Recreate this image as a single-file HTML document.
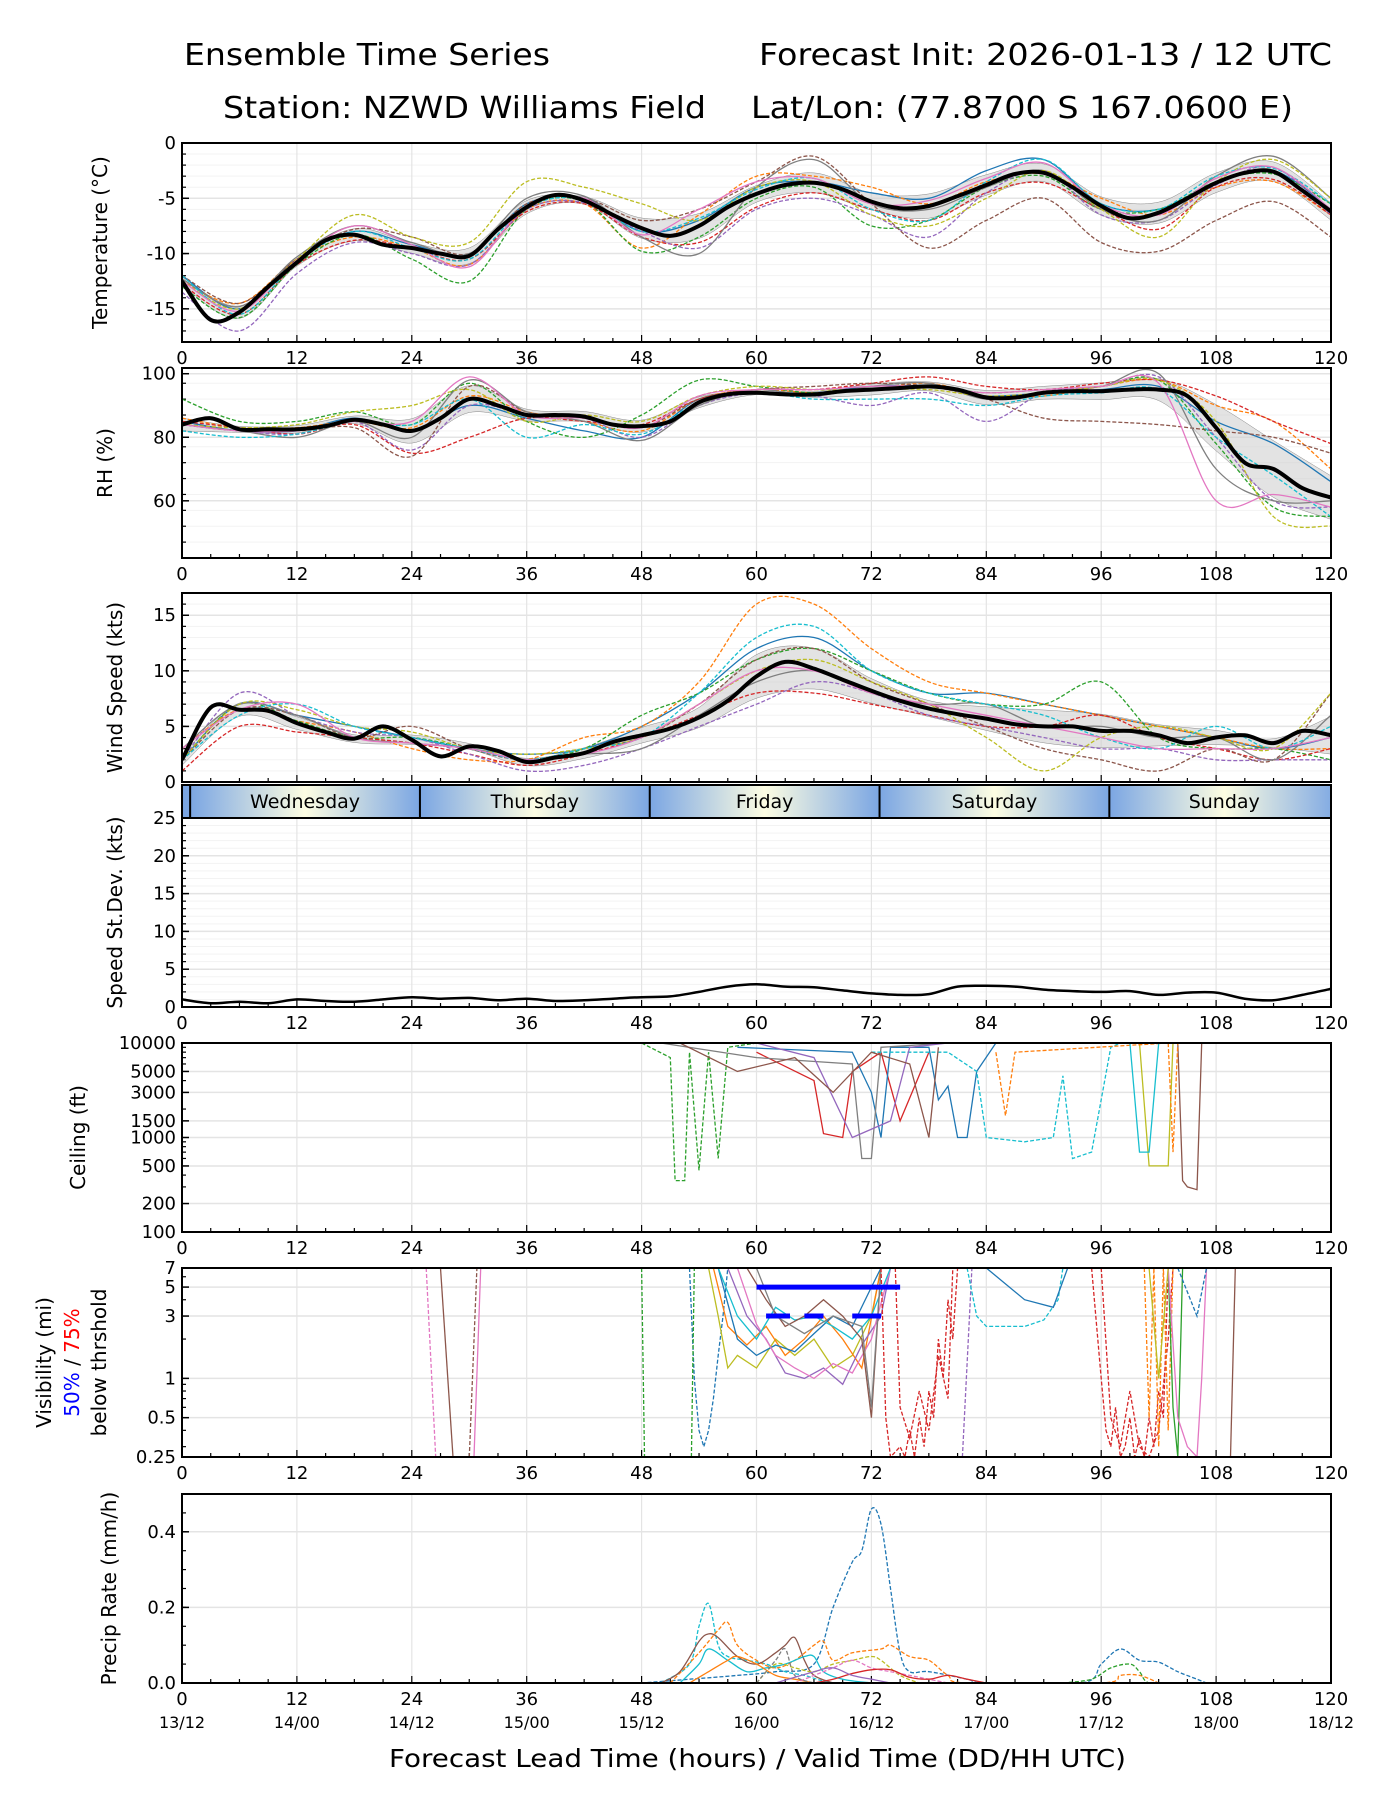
<!DOCTYPE html>
<html><head><meta charset="utf-8"><title>Ensemble Time Series</title>
<style>
html,body{margin:0;padding:0;background:#fff;}
svg{display:block;font-family:"DejaVu Sans","Liberation Sans",sans-serif;}
</style></head>
<body>
<svg id="chart" xmlns="http://www.w3.org/2000/svg" width="1400" height="1800" viewBox="0 0 1400 1800">
<defs>
<linearGradient id="dayGrad" x1="0" x2="1" y1="0" y2="0">
<stop offset="0" stop-color="#7ba6e3"/><stop offset="0.5" stop-color="#fdfde2"/><stop offset="1" stop-color="#7ba6e3"/>
</linearGradient>
</defs>
<text x="184" y="65" font-size="30" textLength="366" lengthAdjust="spacingAndGlyphs">Ensemble Time Series</text>
<text x="759" y="65" font-size="30" textLength="573" lengthAdjust="spacingAndGlyphs">Forecast Init: 2026-01-13 / 12 UTC</text>
<text x="223" y="118" font-size="30" textLength="483" lengthAdjust="spacingAndGlyphs">Station: NZWD Williams Field</text>
<text x="751" y="118" font-size="30" textLength="542" lengthAdjust="spacingAndGlyphs">Lat/Lon: (77.8700 S 167.0600 E)</text>
<text x="389" y="1767" font-size="25" textLength="737" lengthAdjust="spacingAndGlyphs">Forecast Lead Time (hours) / Valid Time (DD/HH UTC)</text>
</svg>
<script>
// ---------- DATA ----------
const tempMean=[-12.5,-16,-15.3,-13,-10.8,-8.8,-8.3,-9.2,-9.5,-10,-10.2,-7.8,-5.8,-4.7,-5.2,-6.5,-7.7,-8.4,-7.5,-5.8,-4.6,-3.8,-3.6,-4.2,-5.3,-5.9,-5.7,-4.8,-3.8,-2.8,-2.7,-4.0,-5.7,-6.8,-6.3,-5,-3.6,-2.7,-2.6,-4.3,-6.2];
const tempMembers=[
[-12,-15,-10.5,-8,-9.2,-10,-5.5,-5,-8,-7,-4,-3.5,-4.5,-5,-2.5,-1.5,-5.5,-6,-3.5,-2.5,-6],
[-12.5,-14.5,-10.5,-8.5,-9.5,-11,-6,-5.5,-9.5,-6.5,-3,-3,-4,-5.5,-3.5,-2.8,-5,-6.5,-4,-3.5,-6.5],
[-13,-15.8,-11,-8.3,-10.5,-12.5,-6,-5.3,-9.8,-8.5,-5,-4,-7.5,-7,-4,-3,-6,-6,-3.5,-2.8,-5.5],
[-12.8,-15.5,-11,-8.8,-9.5,-10.5,-6.2,-5.5,-8.5,-9,-5.8,-4.5,-6,-7,-4.5,-3.6,-6,-7.8,-4,-3.3,-6.5],
[-13.5,-17,-11.8,-9,-10,-11,-6,-5.4,-8,-9.5,-6,-5,-6.5,-8.5,-4.5,-2.5,-6.5,-7,-3.8,-2.2,-6.5],
[-12,-14.5,-10.5,-7.8,-8.5,-10,-5.5,-5,-7,-6,-3.5,-1.2,-5.5,-9.5,-7,-5,-9,-9.8,-7,-5.3,-8.5],
[-12.3,-14.8,-10.3,-7.5,-9,-10,-5,-4.8,-8.5,-10,-4,-1.5,-5.5,-6,-4,-2.5,-6,-7,-3,-1.2,-5],
[-12.5,-15,-10.5,-6.5,-8.5,-9,-3.5,-4,-5.5,-7,-4,-3.5,-6.5,-7.5,-5,-2.5,-6,-8.5,-3.5,-1.5,-5],
[-12,-15.5,-10.8,-8,-9.5,-10.5,-5.8,-5.1,-8,-6.8,-4.2,-3.2,-6,-7,-3.5,-1.5,-5.5,-6,-3,-2.3,-5.5],
[-12.5,-15.2,-10.6,-7.5,-9.2,-11.2,-5.7,-5,-8.3,-6,-3.5,-3.2,-5.5,-5.2,-3.2,-1.8,-5.6,-6.5,-3.2,-2.2,-6]];
const rhMean=[84,86,82.5,82.5,82.5,83.5,85.5,84,82,86,92,90,87,87,86.5,84,83.5,85,91,93.5,94,93.5,93.5,94.5,95,95.5,96,95,92.5,92.5,94,94.5,94.5,95,95,93,83,72,70,64,61];
const rhMembers=[
[85,82,82,86,82,90,86,82,80,92,94,94,96,96,93,94,95,96,85,78,66],
[86,83,83,85,83,93,88,85,82,92,95,94,95,97,93,93,96,98,90,85,70],
[92,85,85,88,84,97,85,80,87,98,96,94,95,96,94,95,96,98,78,58,55],
[85,83,81,84,75,80,86,85,84,92,95,95,97,99,96,95,97,98,93,85,78],
[84,82,81,85,76,90,87,86,80,90,94,93,90,94,85,94,96,99,80,60,58],
[84,82,82,83,74,96,88,86,83,92,95,96,97,96,92,86,85,84,82,80,75],
[84,82,80,85,80,98,88,85,79,90,95,93,96,97,92,94,96,100,70,60,60],
[84,83,84,88,90,95,85,87,85,93,96,95,95,95,93,94,96,98,85,55,52],
[82,80,81,85,84,92,80,84,81,91,94,92,92,92,90,93,94,95,80,68,55],
[84,82,82,85,85,99,87,86,83,93,95,95,96,96,94,95,96,97,60,62,58]];
const windMean=[2,6.7,6.5,6.4,5.3,4.5,3.9,5,3.8,2.3,3.2,2.8,1.8,2.2,2.6,3.6,4.2,4.8,5.8,7.3,9.5,10.8,10.2,9.2,8.2,7.3,6.6,6.1,5.7,5.2,5.0,5.0,4.6,4.6,4.2,3.5,4.0,4.2,3.5,4.6,4.2];
const windMembers=[
[2,7,6,5,4,3,2.5,3,5,8,12,13,10,8,8,7,6,5,4,3,4],
[3,6.5,5.5,4.5,3,2,2,4,5,9,16,16,12,9,8,7,6,5,4,3,3],
[2,7,5.5,4,4,3,2,3,6,8,11,12,10,8,7,7,9,4,3,3,2],
[1,5,4.5,4,3.5,2.5,1.5,2.5,4,6,8,8,7,6,5,5,6,4,3,2,3],
[2,8,6,4.5,4,2.5,1,1.5,3,5,7,9,8,6,5,4,3,3,2,2,2],
[2,6.5,6,4,5,3,2,3,4,7,11,12,9,7,5,3,2,1,3,2,8],
[3,7,6,4,3.5,3,2,2.5,3,6,9,10,8,7,7,5,5,4,4,2,6],
[2,7,6.5,5,4.5,3,2.5,3,4,7,10,11,9,7,4,1,4,5,4,3,8],
[2,6,7,5,4,3,2,3,4,8,13,14,10,8,7,6,4,3,5,3,5],
[3,6.5,7,4,3.5,3,2,2.5,4,7,10,10,8,7,6,5,4,3,3,3,4]];
const sdValues=[1,0.5,0.7,0.5,1.0,0.8,0.7,1,1.3,1.1,1.2,0.9,1.1,0.8,0.9,1.1,1.3,1.4,2,2.7,3,2.7,2.6,2.2,1.8,1.6,1.7,2.7,2.8,2.7,2.3,2.1,2.0,2.1,1.6,1.9,1.9,1.1,0.9,1.6,2.4];
const ceilMembers=[
[[48,10000],[51,7000],[51.5,350],[52.5,350],[53,8000],[54,450],[55,8000],[56,600],[57,9000],[60,10000]],
[[60,8000],[66,4000],[67,1100],[69,1000],[70,5000],[73,8000],[75,1500],[78,8000]],
[[58,9000],[70,8000],[72,3000],[73,1000],[74,9000],[78,9000],[79,2500],[80,3500],[81,1000],[82,1000],[83,5000],[85,10000]],
[[50,10000],[60,7000],[70,6000],[71,600],[72,600],[73,9000],[80,10000]],
[[72,8000],[80,8000],[83,5000],[84,1000],[88,900],[91,1000],[92,4500],[93,600],[95,700],[97,9000],[98,10000]],
[[100,10000],[101,500],[103,500],[103.5,10000]],
[[104,10000],[104.5,350],[105,300],[106,280],[106.5,10000]],
[[85,8000],[86,1700],[87,8000],[103,10000],[103.5,700],[104,10000]],
[[60,10000],[66,7000],[70,1000],[74,1500],[76,9000],[80,10000]],
[[99,10000],[100,700],[101,700],[102,10000]],
[[52,10000],[58,5000],[64,7000],[68,3000],[72,8000],[76,6000],[78,1000],[79,9000]]];
const ceilColors=['#2ca02c','#d62728','#1f77b4','#7f7f7f','#17becf','#bcbd22','#8c564b','#ff7f0e','#9467bd','#17becf','#8c564b'];
const visMembers=[
[[25.5,7],[26.5,0.25]],[[27,7],[28.3,0.25]],[[30.5,0.25],[31.2,7]],[[30,0.25],[30.8,7]],[[48,7],[48.3,0.25]],
[[53,7],[53.5,1],[54,0.4],[54.5,0.3],[55,0.4],[55.5,0.7],[56,1.5],[56.5,3],[57,7]],
[[53.2,0.25],[53.5,7]],
[[55,7],[56,3],[57,1.2],[58,1.5],[60,1.2],[62,2],[64,1.5],[66,2],[68,1.2],[70,1.5],[72,3],[73,7]],
[[55.5,7],[57,2.5],[59,1.8],[61,2.5],[63,1.5],[65,2],[67,3],[69,2],[71,1.2],[73,7]],
[[56,7],[58,2],[60,1.5],[62,1.8],[64,1.6],[66,2.2],[68,3],[70,2.5],[72,5],[73,7]],
[[57,7],[59,3],[61,2],[63,1.1],[65,1],[67,1.2],[69,0.9],[71,1.8],[73,3],[74,7]],
[[58,7],[60,2.6],[62,1.5],[64,1.2],[66,1],[68,1.3],[70,1.1],[72,2],[74,7]],
[[56,7],[58,3],[60,2],[62,3.5],[64,2.8],[66,3],[68,2.5],[70,2],[72,3],[74,7]],
[[59,7],[61,4],[63,2.5],[65,3],[67,4],[69,3],[71,2],[72,0.5],[73,7]],
[[60,7],[62,3],[65,2.2],[68,3],[71,2.5],[72,0.6],[73,7]],
[[73,7],[73.5,0.5],[74,0.25],[75,0.3],[75.5,0.25],[76,0.4],[76.5,0.25],[77,0.5],[77.5,0.3],[78,0.8],[78.5,0.5],[79,2],[79.5,1],[80,4],[80.5,2],[81,7]],
[[74.5,7],[75,0.6],[76,0.35],[77,0.8],[78,0.4],[79,1.5],[80,0.7],[80.5,7]],
[[81.5,0.25],[82.5,7]],
[[82,7],[83,3],[84,2.5],[88,2.5],[90,2.8],[91.5,4],[92,7]],
[[84,7],[88,4],[91,3.5],[92.5,7]],
[[95,7],[96,1],[96.5,0.4],[97,0.3],[97.5,0.6],[98,0.25],[98.5,0.3],[99,0.5],[99.5,0.25],[100,0.35],[100.5,0.25],[101,0.5],[101.5,0.3],[102,0.8],[102.5,0.5],[103,7]],
[[96,7],[97,0.5],[98,0.3],[99,0.8],[100,0.3],[101,0.25],[102,0.4],[103,2],[103.5,7]],
[[100.5,7],[101,0.5],[101.5,7],[102,0.3],[102.5,7],[103,0.4],[103.5,7]],
[[103,7],[103.5,0.6],[104,0.25],[104.5,7]],
[[103,7],[104,0.5],[105,0.3],[106,0.25],[106.5,1],[107,7]],
[[109.5,0.25],[110,7]],
[[101,7],[102,1],[103,7]],
[[104,7],[106,3],[107,7]]];
const visColors=['#e377c2','#8c564b','#e377c2','#8c564b','#2ca02c','#1f77b4','#2ca02c','#bcbd22','#ff7f0e','#1f77b4','#9467bd','#e377c2','#17becf','#8c564b','#7f7f7f','#d62728','#d62728','#9467bd','#17becf','#1f77b4','#d62728','#d62728','#ff7f0e','#2ca02c','#e377c2','#8c564b','#bcbd22','#1f77b4'];
const visDashed=[1,0,0,1,1,1,1,0,0,0,0,0,0,0,0,1,1,1,1,0,1,1,1,0,0,0,0,1];
const vis50Bars=[[60,75]];
const vis75Bars=[[61,63.5],[65,67],[70,73]];
const precipMembers=[
[[48,0],[53,0.01],[58,0.02],[62,0.03],[66,0.05],[68,0.2],[70,0.32],[71,0.35],[72,0.46],[73,0.42],[74,0.25],[75,0.08],[76,0.03],[78,0.03],[82,0.01],[84,0],[94,0],[96,0.05],[98,0.09],[100,0.06],[102,0.055],[104,0.03],[106,0.01],[107,0]],
[[50,0],[53,0.05],[54,0.15],[55,0.21],[56,0.1],[57,0.07],[59,0.06],[61,0.05],[63,0.03],[65,0.02],[68,0],[72,0]],
[[51,0],[54,0.08],[56,0.14],[57,0.16],[58,0.1],[60,0.06],[62,0.04],[64,0.06],[66,0.1],[67,0.11],[68,0.06],[70,0.08],[73,0.09],[74,0.1],[76,0.07],[78,0.06],[80,0.02],[82,0],[96,0],[98,0.02],[100,0.02],[102,0]],
[[50,0],[52,0.03],[54,0.11],[55,0.13],[56,0.12],[58,0.07],[60,0.05],[62,0.08],[63,0.1],[64,0.12],[65,0.06],[66,0.02],[68,0]],
[[52,0],[54,0.05],[55,0.09],[57,0.06],[59,0.03],[61,0.04],[63,0.05],[65,0.07],[66,0.07],[67,0.03],[69,0.01],[72,0]],
[[53,0],[55,0.03],[57,0.06],[58,0.07],[60,0.05],[62,0.02],[64,0.01],[66,0]],
[[60,0],[62,0.05],[64,0.04],[66,0.03],[68,0.05],[70,0.06],[72,0.07],[73,0.06],[75,0.02],[77,0]],
[[64,0],[66,0.02],[68,0.04],[70,0.06],[72,0.04],[74,0.03],[76,0.02],[78,0.01],[80,0]],
[[66,0],[68,0.01],[70,0.025],[72,0.035],[74,0.035],[76,0.015],[78,0.01],[80,0.02],[82,0.01],[84,0]],
[[92,0],[95,0.01],[97,0.04],[99,0.05],[100,0.03],[101,0],[104,0]],
[[60,0],[62,0.06],[63,0.09],[64,0.02],[66,0]],
[[62,0],[66,0.03],[68,0.04],[70,0.02],[72,0.01],[74,0]]];
const precipColors=['#1f77b4','#17becf','#ff7f0e','#8c564b','#17becf','#ff7f0e','#bcbd22','#e377c2','#d62728','#2ca02c','#7f7f7f','#9467bd'];
const precipDashed=[1,1,1,0,0,0,1,1,0,1,1,0];
const dayNames=['Wednesday','Thursday','Friday','Saturday','Sunday'];
const xTickLabels=['0','12','24','36','48','60','72','84','96','108','120'];
const dateLabels=['13/12','14/00','14/12','15/00','15/12','16/00','16/12','17/00','17/12','18/00','18/12'];
const memberColors=['#1f77b4','#ff7f0e','#2ca02c','#d62728','#9467bd','#8c564b','#7f7f7f','#bcbd22','#17becf','#e377c2'];
const memberDashed=[0,1,1,1,1,1,0,1,1,0];

// ---------- LAYOUT ----------
const NS='http://www.w3.org/2000/svg';
const svg=document.getElementById('chart');
const L=182,R=1331;
function mk(tag,attrs,parent){const e=document.createElementNS(NS,tag);for(const k in attrs)e.setAttribute(k,attrs[k]);(parent||svg).appendChild(e);return e;}
function xs(h){return L+h*(R-L)/120;}
function ys(p,v){if(p.log){return p.b-(Math.log(v)-Math.log(p.min))/(Math.log(p.max)-Math.log(p.min))*(p.b-p.t);}return p.b-(v-p.min)/(p.max-p.min)*(p.b-p.t);}
function smooth(pts){let d='M'+pts[0][0].toFixed(1)+','+pts[0][1].toFixed(1);for(let i=0;i<pts.length-1;i++){const p0=pts[Math.max(0,i-1)],p1=pts[i],p2=pts[i+1],p3=pts[Math.min(pts.length-1,i+2)];const c1=[p1[0]+(p2[0]-p0[0])/6,p1[1]+(p2[1]-p0[1])/6],c2=[p2[0]-(p3[0]-p1[0])/6,p2[1]-(p3[1]-p1[1])/6];d+='C'+c1[0].toFixed(1)+','+c1[1].toFixed(1)+' '+c2[0].toFixed(1)+','+c2[1].toFixed(1)+' '+p2[0].toFixed(1)+','+p2[1].toFixed(1);}return d;}
function poly(pts){return 'M'+pts.map(p=>p[0].toFixed(1)+','+p[1].toFixed(1)).join('L');}

const panels={
 temp:{t:143,b:342,min:-18,max:0,ticks:[0,-5,-10,-15],minor:1,mgrid:true,label:['Temperature (°C)'],lx:107},
 rh:{t:368,b:558,min:42,max:101.8,ticks:[60,80,100],minor:5,mgrid:true,label:['RH (%)'],lx:112},
 wind:{t:593,b:782,min:0,max:17,ticks:[0,5,10,15],minor:1,mgrid:true,label:['Wind Speed (kts)'],lx:122,noX:true},
 sd:{t:818,b:1007,min:0,max:25,ticks:[0,5,10,15,20,25],minor:1,mgrid:true,label:['Speed St.Dev. (kts)'],lx:122},
 ceil:{t:1043,b:1232,min:100,max:10000,log:true,ticks:[100,200,500,1000,1500,3000,5000,10000],minorList:[300,400,600,700,800,900,2000,4000,6000,7000,8000,9000],label:['Ceiling (ft)'],lx:85},
 vis:{t:1268,b:1457,min:0.25,max:7,log:true,ticks:[0.25,0.5,1,3,5,7],minorList:[0.3,0.4,0.6,0.7,0.8,0.9,2,4,6],label:[],lx:0},
 pr:{t:1494,b:1683,min:0,max:0.5,ticks:[0,0.2,0.4],tickText:['0.0','0.2','0.4'],minor:0.05,label:['Precip Rate (mm/h)'],lx:116,dates:true}
};

function drawPanel(key){
 const p=panels[key];
 const g=mk('g',{});
 
 
 const cp=mk('clipPath',{id:'clip-'+key},g);
 mk('rect',{x:L,y:p.t,width:R-L,height:p.b-p.t},cp);
 if(p.mgrid){for(let v=p.min;v<=p.max+1e-9;v+=p.minor){const ln=mk('line',{x1:L,x2:R,y1:ys(p,v),y2:ys(p,v),stroke:'#f3f3f3','stroke-width':1},g);}}
 for(let i=0;i<=10;i++){const ln=mk('line',{x1:xs(i*12),x2:xs(i*12),y1:p.t,y2:p.b,stroke:'#e4e4e4','stroke-width':1.2},g);}
 p.ticks.forEach((v,i)=>{const ln=mk('line',{x1:L,x2:R,y1:ys(p,v),y2:ys(p,v),stroke:'#e4e4e4','stroke-width':1.5},g);
  const t=mk('text',{x:L-6,y:ys(p,v)+6,'font-size':18,'text-anchor':'end'},g);t.textContent=p.tickText?p.tickText[i]:String(v);
  mk('line',{x1:L,x2:L+7,y1:ys(p,v),y2:ys(p,v),stroke:'#000','stroke-width':1.5},g);});
 if(p.minorList){p.minorList.forEach(v=>{mk('line',{x1:L,x2:L+4,y1:ys(p,v),y2:ys(p,v),stroke:'#000','stroke-width':1.2},g);});}
 else{for(let v=p.min;v<=p.max+1e-9;v+=p.minor){mk('line',{x1:L,x2:L+4,y1:ys(p,v),y2:ys(p,v),stroke:'#000','stroke-width':1.2},g);}}
 for(let h=0;h<=120;h+=3){const maj=h%12===0;mk('line',{x1:xs(h),x2:xs(h),y1:p.b,y2:p.b-(maj?7:4),stroke:'#000','stroke-width':1.2},g);}
 if(!p.noX){xTickLabels.forEach((s,i)=>{const t=mk('text',{x:xs(i*12),y:p.b+22,'font-size':18,'text-anchor':'middle'},g);t.textContent=s;});}
 if(p.dates){dateLabels.forEach((s,i)=>{const t=mk('text',{x:xs(i*12),y:p.b+45,'font-size':16,'text-anchor':'middle'},g);t.textContent=s;});}
 p.label.forEach(s=>{const cy=(p.t+p.b)/2;const t=mk('text',{x:p.lx,y:cy,'font-size':20,'text-anchor':'middle',transform:'rotate(-90 '+p.lx+' '+cy+')'},g);t.textContent=s;});
 const data=mk('g',{'clip-path':'url(#clip-'+key+')'},g);
 
 
 return {g,data,p};
}
function frame(o){const r=mk('rect',{x:L,y:o.p.t,width:R-L,height:o.p.b-o.p.t,fill:'none',stroke:'#000','stroke-width':2},o.g);}

function ensemble(key,mean,members){
 const o=drawPanel(key),p=o.p;
 const hrs6=members[0].map((_,i)=>i*6);
 const hi=[],lo=[];
 hrs6.forEach((h,i)=>{const vals=members.map(m=>m[i]);const mu=vals.reduce((a,b)=>a+b,0)/vals.length;const sd=Math.sqrt(vals.reduce((a,b)=>a+(b-mu)*(b-mu),0)/vals.length);const mm=mean[h/3];hi.push([xs(h),ys(p,Math.min(p.max,mm+sd*0.8))]);lo.push([xs(h),ys(p,Math.max(p.min,mm-sd*0.8))]);});
 const band=mk('path',{d:smooth(hi)+'L'+smooth(lo.slice().reverse()).slice(1)+'Z',fill:'#d0d0d0','fill-opacity':0.6,stroke:'#888','stroke-width':0.5},o.data);
 
 
 members.forEach((m,i)=>{const pts=m.map((v,j)=>[xs(hrs6[j]),ys(p,v)]);const ln=mk('path',{d:smooth(pts),fill:'none',stroke:memberColors[i],'stroke-width':1.3,'stroke-dasharray':memberDashed[i]?'4,2':'none'},o.data);
  
  });
 const mpts=mean.map((v,j)=>[xs(j*3),ys(p,v)]);
 const ml=mk('path',{d:smooth(mpts),fill:'none',stroke:'#000','stroke-width':4},o.data);
 
 
 frame(o);
}
ensemble('temp',tempMean,tempMembers);
ensemble('rh',rhMean,rhMembers);
ensemble('wind',windMean,windMembers);

(function(){
 const t=785,b=818;
 const g=mk('g',{});
 
 
 const cp=mk('clipPath',{id:'clip-day'},g);mk('rect',{x:L,y:t,width:R-L,height:b-t},cp);
 const cg=mk('g',{'clip-path':'url(#clip-day)'},g);
 mk('rect',{x:L,y:t,width:R-L,height:b-t,fill:'#7ba6e3'},cg);
 dayNames.forEach((d,i)=>{const h0=0.85+i*24;const r=mk('rect',{x:xs(h0),y:t,width:xs(24)-xs(0),height:b-t,fill:'url(#dayGrad)'},cg);
  const tx=mk('text',{x:xs(h0+12),y:t+23,'font-size':19,'text-anchor':'middle'},g);tx.textContent=d;
  mk('line',{x1:xs(h0),x2:xs(h0),y1:t,y2:b,stroke:'#000','stroke-width':2},g);});
 const fr=mk('rect',{x:L,y:t,width:R-L,height:b-t,fill:'none',stroke:'#000','stroke-width':2},g);
 
 
})();

(function(){const o=drawPanel('sd');const pts=sdValues.map((v,j)=>[xs(j*3),ys(o.p,v)]);
 const ln=mk('path',{d:smooth(pts),fill:'none',stroke:'#000','stroke-width':2.5},o.data);
 
 
 frame(o);})();

(function(){const o=drawPanel('ceil');ceilMembers.forEach((m,i)=>{const pts=m.map(q=>[xs(q[0]),ys(o.p,q[1])]);
 const ln=mk('path',{d:poly(pts),fill:'none',stroke:ceilColors[i],'stroke-width':1.3,'stroke-dasharray':(i===0||i===4||i===7)?'4,2':'none'},o.data);
 
 });frame(o);})();

(function(){const o=drawPanel('vis');visMembers.forEach((m,i)=>{const pts=m.map(q=>[xs(q[0]),ys(o.p,q[1])]);
 const ln=mk('path',{d:poly(pts),fill:'none',stroke:visColors[i],'stroke-width':1.3,'stroke-dasharray':visDashed[i]?'4,2':'none'},o.data);
 
 });
 vis50Bars.forEach(s=>{const ln=mk('line',{x1:xs(s[0]),x2:xs(s[1]),y1:ys(o.p,5),y2:ys(o.p,5),stroke:'#0000ff','stroke-width':5},o.data);});
 vis75Bars.forEach(s=>{const ln=mk('line',{x1:xs(s[0]),x2:xs(s[1]),y1:ys(o.p,3),y2:ys(o.p,3),stroke:'#0000ff','stroke-width':5},o.data);});
 const cy=(o.p.t+o.p.b)/2;
 const t1=mk('text',{x:51,y:cy,'font-size':20,'text-anchor':'middle',transform:'rotate(-90 51 '+cy+')'},o.g);t1.textContent='Visibility (mi)';
 const t2=mk('text',{x:79,y:cy,'font-size':20,'text-anchor':'middle',transform:'rotate(-90 79 '+cy+')'},o.g);
 const s1=mk('tspan',{fill:'#0000ff'},t2);s1.textContent='50%';const s2=mk('tspan',{fill:'#000'},t2);s2.textContent=' / ';const s3=mk('tspan',{fill:'#ff0000'},t2);s3.textContent='75%';
 const t3=mk('text',{x:106,y:cy,'font-size':20,'text-anchor':'middle',transform:'rotate(-90 106 '+cy+')'},o.g);t3.textContent='below thrshold';
 frame(o);})();

(function(){const o=drawPanel('pr');precipMembers.forEach((m,i)=>{const pts=m.map(q=>[xs(q[0]),ys(o.p,q[1])]);
 const ln=mk('path',{d:smooth(pts),fill:'none',stroke:precipColors[i],'stroke-width':1.3,'stroke-dasharray':precipDashed[i]?'4,2':'none'},o.data);
 
 });frame(o);})();
</script>
</body></html>
